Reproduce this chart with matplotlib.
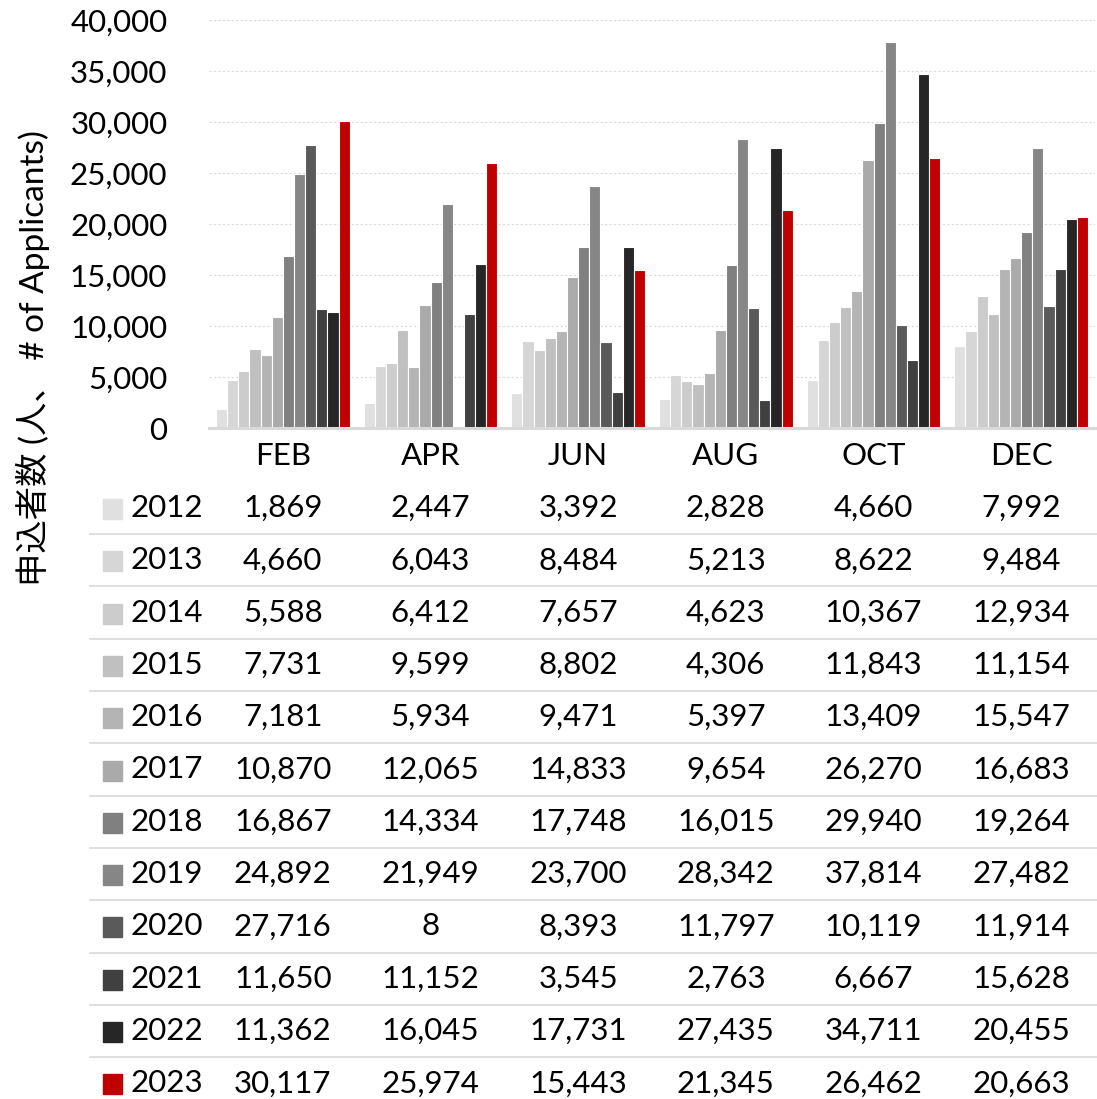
import matplotlib
matplotlib.use("Agg")
import matplotlib.pyplot as plt
import matplotlib.transforms as mtransforms
from matplotlib.ticker import FuncFormatter, MultipleLocator
import numpy as np

plt.rcParams['font.family'] = ['Lato', 'Noto Sans CJK JP', 'DejaVu Sans']

months = ["FEB", "APR", "JUN", "AUG", "OCT", "DEC"]
years = ["2012", "2013", "2014", "2015", "2016", "2017", "2018", "2019",
         "2020", "2021", "2022", "2023"]
v2012 = [1869, 2447, 3392, 2828, 4660, 7992]
v2013 = [4660, 6043, 8484, 5213, 8622, 9484]
v2014 = [5588, 6412, 7657, 4623, 10367, 12934]
v2015 = [7731, 9599, 8802, 4306, 11843, 11154]
v2016 = [7181, 5934, 9471, 5397, 13409, 15547]
v2017 = [10870, 12065, 14833, 9654, 26270, 16683]
v2018 = [16867, 14334, 17748, 16015, 29940, 19264]
v2019 = [24892, 21949, 23700, 28342, 37814, 27482]
v2020 = [27716, 8, 8393, 11797, 10119, 11914]
v2021 = [11650, 11152, 3545, 2763, 6667, 15628]
v2022 = [11362, 16045, 17731, 27435, 34711, 20455]
v2023 = [30117, 25974, 15443, 21345, 26462, 20663]
series = [v2012, v2013, v2014, v2015, v2016, v2017, v2018, v2019,
          v2020, v2021, v2022, v2023]
colors = ["#e0e0e0", "#d6d6d6", "#cccccc", "#c0c0c0", "#b4b4b4", "#aaaaaa",
          "#808080", "#868686", "#5a5a5a", "#404040", "#262626", "#c00000"]
ylabel = "申込者数 (人、 # of Applicants)"

W, H = 1097, 1099
fig = plt.figure(figsize=(W / 100, H / 100), dpi=100)
FS = 22.5

def fx(px):
    return px / W

def fy(py):
    return 1 - py / H

left, right = 209, 1095
top, bottom = 20, 428
ax = fig.add_axes([fx(left), fy(bottom), fx(right) - fx(left), fy(top) - fy(bottom)])

n = len(series)
group = 0.907
bw = group / n
x = np.arange(len(months))
for i, (vals, c) in enumerate(zip(series, colors)):
    offs = -group / 2 + bw * (i + 0.5)
    ax.bar(x + offs, vals, width=bw, color=c, edgecolor="white", linewidth=0.8, zorder=3)

ax.set_xlim(-0.5, len(months) - 0.5)
ax.set_ylim(0, 40000)
ax.yaxis.set_major_locator(MultipleLocator(5000))
ax.yaxis.set_major_formatter(FuncFormatter(lambda v, p: f"{int(v):,}"))
ax.grid(axis="y", color="#d9d9d9", linestyle=(0, (2, 2)), linewidth=0.8, zorder=0)
for s in ["top", "right", "left"]:
    ax.spines[s].set_visible(False)
ax.spines["bottom"].set_color("#d9d9d9")
ax.spines["bottom"].set_linewidth(2.2)
ax.spines["bottom"].set_zorder(4)
ax.tick_params(axis="y", length=0, labelsize=FS, pad=30)
ax.tick_params(axis="x", length=0, labelbottom=False)

# Data table
row_h = 52.3
row0 = 508
tab_top, tab_bot = 430, H
tab = fig.add_axes([fx(left), fy(tab_bot), fx(right) - fx(left), fy(tab_top) - fy(tab_bot)])
tab.set_xlim(-0.5, len(months) - 0.5)
tab.set_ylim((tab_bot - row0) / row_h, (tab_top - row0) / row_h)
tab.axis("off")

for j, m in enumerate(months):
    tab.text(j, -1, m, ha="center", va="center", fontsize=FS, color="black")

blend = mtransforms.blended_transform_factory(fig.transFigure, tab.transData)
for i, (yr, vals, c) in enumerate(zip(years, series, colors)):
    for j, v in enumerate(vals):
        tab.text(j, i, f"{v:,}", ha="center", va="center", fontsize=FS, color="black")
    tab.text(fx(131), i, yr, transform=blend, ha="left", va="center", fontsize=FS, color="black")
    tab.add_patch(plt.Rectangle((fx(103), i - 9 / row_h), fx(122) - fx(103), 20 / row_h,
                                transform=blend, color=c, clip_on=False))
    if i > 0:
        tab.plot([fx(90), fx(1097)], [i - 0.5, i - 0.5], transform=blend,
                 color="#d9d9d9", linewidth=1.2, clip_on=False)

fig.text(fx(33), fy(358), ylabel, rotation=90, ha="center", va="center", fontsize=24,
         color="black")

fig.savefig("out.png", dpi=100)
